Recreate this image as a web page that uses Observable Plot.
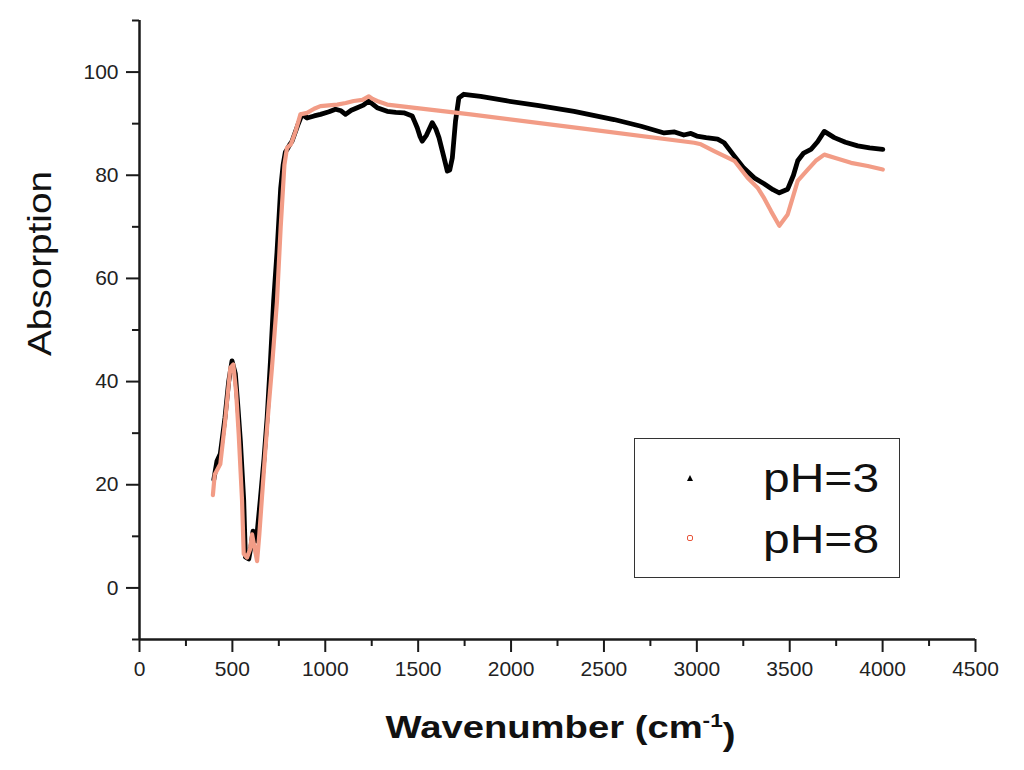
<!DOCTYPE html>
<html>
<head>
<meta charset="utf-8">
<script src="https://cdn.jsdelivr.net/npm/d3@7"></script>
<script src="https://cdn.jsdelivr.net/npm/@observablehq/plot@0.6"></script>
<style>
  html, body { margin: 0; padding: 0; background: #fff; }
  #wrap { position: relative; width: 1024px; height: 770px; overflow: hidden; }
  #legend { position: absolute; left: 634px; top: 438px; width: 264px; height: 138px;
            border: 1.5px solid #333; background: #fff; font-family: "Liberation Sans", Arial, sans-serif; }
  .item { position: absolute; left: 0; width: 100%; height: 40px; }
  .label { position: absolute; left: 128px; top: 0; font-size: 40px; line-height: 40px; color: #111;
           transform: scaleX(1.2); transform-origin: left center; }
  .tri { position: absolute; left: 52px; top: 17px; width: 0; height: 0;
         border-left: 3.5px solid transparent; border-right: 3.5px solid transparent; border-bottom: 6px solid #000; }
  .circ { position: absolute; left: 52px; top: 16px; width: 4px; height: 4px; border: 1.3px solid #e8553a; border-radius: 2px; }
</style>
</head>
<body>
<div id="wrap"></div>
<script>
// pH = 3 series (wavenumber, absorption)
const wn3 = [400, 417, 435, 460, 480, 498, 516, 530, 543, 561, 570, 588, 600, 611, 620, 629, 650, 670, 687, 705, 722, 740, 760, 773, 785, 794, 810, 821, 850, 875, 902, 940, 974, 1020, 1055, 1085, 1109, 1140, 1172, 1205, 1234, 1255, 1279, 1333, 1380, 1423, 1468, 1480, 1495, 1510, 1522, 1545, 1576, 1595, 1612, 1635, 1657, 1670, 1684, 1701, 1719, 1746, 1836, 1980, 2150, 2339, 2554, 2700, 2824, 2880, 2930, 2968, 3000, 3050, 3112, 3147, 3200, 3250, 3309, 3360, 3410, 3444, 3489, 3520, 3543, 3575, 3614, 3650, 3686, 3740, 3800, 3866, 3930, 4001];
const abs3 = [21, 24.6, 26, 33, 40, 44, 41.5, 35, 28.5, 16.9, 6, 5.6, 8, 11, 10.5, 9.1, 17, 25, 33, 44, 55.6, 65, 77.5, 82, 84.5, 85, 86, 86.6, 89.5, 91.8, 91.1, 91.5, 91.8, 92.3, 92.8, 92.5, 91.8, 92.6, 93.1, 93.6, 94.4, 93.8, 93.1, 92.4, 92.2, 92.1, 91.5, 90.5, 89.2, 87.5, 86.6, 87.8, 90.2, 89, 87.3, 84, 80.8, 81, 83.4, 90.5, 95.0, 95.7, 95.3, 94.4, 93.5, 92.4, 90.8, 89.5, 88.2, 88.4, 87.8, 88.1, 87.6, 87.3, 87.0, 86.3, 83.8, 81.5, 79.5, 78.4, 77.2, 76.6, 77.3, 80, 82.8, 84.3, 85.0, 86.5, 88.5, 87.3, 86.4, 85.7, 85.3, 85.0];

// pH = 8 series
const wn8 = [395, 405, 435, 460, 489, 505, 520, 534, 552, 561, 579, 595, 606, 618, 633, 645, 660, 677, 695, 713, 740, 760, 780, 794, 815, 840, 866, 902, 940, 974, 1064, 1110, 1153, 1200, 1234, 1255, 1279, 1333, 1782, 2400, 2986, 3022, 3093, 3202, 3273, 3327, 3363, 3400, 3444, 3489, 3515, 3543, 3597, 3640, 3686, 3750, 3830, 3920, 4001];
const abs8 = [18, 22, 24, 32, 42.7, 43.3, 38, 29.8, 16.9, 6.6, 5.9, 7.5, 10.4, 8, 5.2, 10.4, 18, 26.5, 35, 42.7, 55.6, 70, 82, 85.3, 86, 88.5, 91.8, 92.1, 92.9, 93.4, 93.7, 94, 94.4, 94.6, 95.3, 94.8, 94.4, 93.7, 91.8, 89, 86.3, 86.0, 84.7, 82.8, 79.5, 77.6, 75.5, 73, 70.2, 72.4, 75.5, 78.9, 81.1, 82.8, 84.0, 83.3, 82.4, 81.8, 81.1];

const seriesNames = ["pH=3", "pH=8"];
const xMajor = [0, 500, 1000, 1500, 2000, 2500, 3000, 3500, 4000, 4500];
const xMinor = [250, 750, 1250, 1750, 2250, 2750, 3250, 3750, 4250];
const yMajor = [0, 20, 40, 60, 80, 100];
const yMinor = [-10, 10, 30, 50, 70, 90, 110];
const xTitle = "Wavenumber (cm-1)";
const yTitle = "Absorption";

const rows3 = wn3.map((w, i) => ({wn: w, abs: abs3[i]}));
const rows8 = wn8.map((w, i) => ({wn: w, abs: abs8[i]}));

const plain = d => String(d);

const chart = Plot.plot({
  width: 1024,
  height: 770,
  marginLeft: 139,
  marginRight: 49,
  marginTop: 20,
  marginBottom: 131,
  style: {fontFamily: "'Liberation Sans', Arial, sans-serif", background: "#fff", color: "#1a1a1a"},
  x: {domain: [0, 4500], label: null},
  y: {domain: [-10, 110], label: null},
  marks: [
    Plot.axisY(yMinor, {tickSize: 7, tickFormat: () => "", strokeWidth: 2, label: null}),
    Plot.axisY(yMajor, {tickSize: 13, tickPadding: 8, tickFormat: plain, strokeWidth: 2, fontSize: 21, fill: "#222", label: null}),
    Plot.axisX(xMinor, {tickSize: 7, tickFormat: () => "", strokeWidth: 2, label: null}),
    Plot.axisX(xMajor, {tickSize: 13, tickPadding: 9, tickFormat: plain, strokeWidth: 2, fontSize: 21, fill: "#222", label: null}),
    Plot.ruleX([0], {stroke: "#1a1a1a", strokeWidth: 2.5}),
    Plot.ruleY([-10], {stroke: "#1a1a1a", strokeWidth: 2.5}),
    Plot.line(rows3, {x: "wn", y: "abs", stroke: "#000", strokeWidth: 4.8, strokeLinejoin: "round", strokeLinecap: "round"}),
    Plot.line(rows8, {x: "wn", y: "abs", stroke: "#f29c86", strokeWidth: 4.2, strokeLinejoin: "round", strokeLinecap: "round"}),
    Plot.text([yTitle], {text: d => d, frameAnchor: "left", rotate: -90, dx: -99, dy: 26, fontSize: 33, fill: "#111"}),
    Plot.text([xTitle], {text: d => d, frameAnchor: "bottom", dx: 3, dy: 88, fontSize: 32, fontWeight: "bold", fill: "#111", lineAnchor: "middle"})
  ]
});

// typographic adjustments for the axis titles
d3.select(chart).selectAll("text").each(function() {
  const t = d3.select(this);
  const s = this.textContent;
  if (s === yTitle) {
    t.attr("textLength", 185).attr("lengthAdjust", "spacingAndGlyphs");
  } else if (s === xTitle) {
    t.text(null);
    t.append("tspan").text("Wavenumber (cm");
    t.append("tspan").attr("dy", "-0.55em").attr("font-size", "19px").text("-1");
    t.append("tspan").attr("dy", "0.55em").text(")");
    t.attr("textLength", 350).attr("lengthAdjust", "spacingAndGlyphs");
  }
});

const wrap = document.getElementById("wrap");
wrap.appendChild(chart);

// legend
const legend = document.createElement("div");
legend.id = "legend";
const symbols = ["tri", "circ"];
seriesNames.forEach((name, i) => {
  const item = document.createElement("div");
  item.className = "item";
  item.style.top = (i === 0 ? 19 : 80) + "px";
  const sym = document.createElement("div");
  sym.className = symbols[i];
  const lab = document.createElement("div");
  lab.className = "label";
  lab.textContent = name;
  item.appendChild(sym);
  item.appendChild(lab);
  legend.appendChild(item);
});
wrap.appendChild(legend);
</script>
</body>
</html>
